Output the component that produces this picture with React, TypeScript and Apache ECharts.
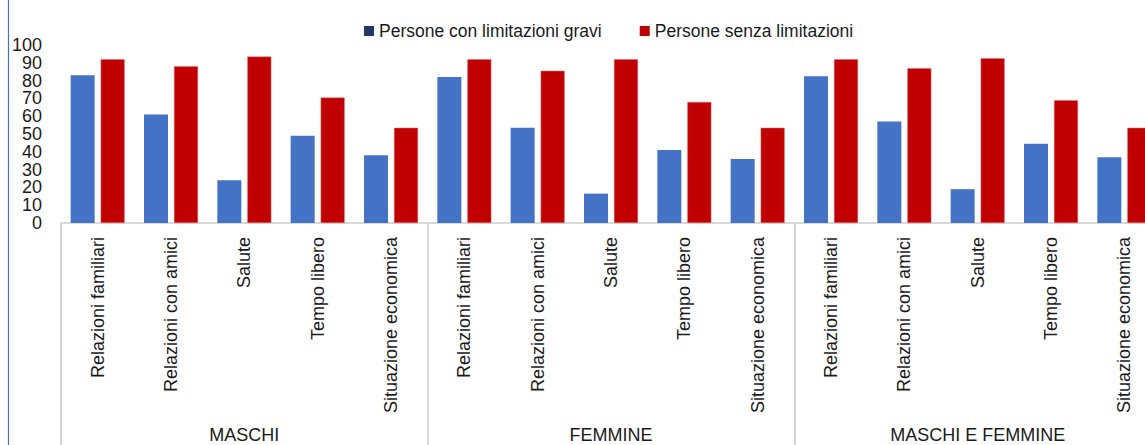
import React, { useEffect, useRef } from "react";
import * as echarts from "echarts";

const groups = ["MASCHI", "FEMMINE", "MASCHI E FEMMINE"];
const topics = ["Relazioni familiari", "Relazioni con amici", "Salute", "Tempo libero", "Situazione economica"];
const categories = groups.flatMap(() => topics);

const seriesNames = ["Persone con limitazioni gravi", "Persone senza limitazioni"];

const conLimitazioni = [
  83, 61, 24, 49, 38,
  82, 53.5, 16.5, 41, 36,
  82.5, 57, 19, 44.5, 37,
];
const senzaLimitazioni = [
  92, 88, 93.5, 70.5, 53.5,
  92, 85.5, 92, 68, 53.5,
  92, 87, 92.5, 69, 53.5,
];

const yTicks = { min: 0, max: 100, interval: 10 };

const FONT = "'Liberation Sans', Arial, sans-serif";

export default function App() {
  const ref = useRef<HTMLDivElement>(null);

  useEffect(() => {
    document.body.style.margin = "0";
    document.body.style.overflow = "hidden";
    const chart = echarts.init(ref.current!, null, { renderer: "svg" });
    const yLabel = { fontSize: 18, color: "#1a1a1a", margin: 19, fontFamily: FONT };
    chart.setOption({
      animation: false,
      backgroundColor: "#ffffff",
      textStyle: { fontFamily: FONT },
      legend: {
        left: 364,
        top: 22,
        padding: 0,
        itemWidth: 10,
        itemHeight: 10,
        itemGap: 38,
        textStyle: { fontSize: 17.5, color: "#1a1a1a", fontFamily: FONT, padding: [0, 0, 0, 0] },
        data: [
          { name: seriesNames[0], icon: "rect", itemStyle: { color: "#203864", borderWidth: 0 } },
          { name: seriesNames[1], icon: "rect", itemStyle: { color: "#C00000", borderWidth: 0 } },
        ],
      },
      grid: { left: 61, right: 9, top: 45, bottom: 222, containLabel: false },
      xAxis: [
        {
          type: "category",
          data: categories,
          position: "bottom",
          axisLine: { show: true, lineStyle: { color: "#d9d9d9", width: 2 } },
          axisTick: { show: false },
          axisLabel: {
            interval: 0,
            rotate: 90,
            margin: 14,
            fontSize: 18,
            color: "#1a1a1a",
            fontFamily: FONT,
          },
        },
        {
          type: "category",
          data: groups,
          position: "bottom",
          axisLine: { show: false },
          axisTick: {
            show: true,
            alignWithLabel: false,
            length: 230,
            lineStyle: { color: "#d9d9d9", width: 2 },
          },
          axisLabel: {
            interval: 0,
            margin: 203,
            fontSize: 18,
            color: "#1a1a1a",
            fontFamily: FONT,
          },
        },
      ],
      yAxis: [
        {
          type: "value",
          position: "left",
          min: yTicks.min,
          max: yTicks.max,
          interval: yTicks.interval,
          axisLine: { show: false },
          axisTick: { show: false },
          splitLine: { show: false },
          axisLabel: { ...yLabel, showMinLabel: false, showMaxLabel: false },
        },
        {
          type: "value",
          position: "left",
          min: yTicks.min,
          max: yTicks.max,
          interval: yTicks.max,
          axisLine: { show: false },
          axisTick: { show: false },
          splitLine: { show: false },
          axisLabel: { ...yLabel, showMinLabel: true, showMaxLabel: true },
        },
      ],
      series: [
        {
          name: seriesNames[0],
          type: "bar",
          xAxisIndex: 0,
          yAxisIndex: 0,
          data: conLimitazioni,
          barWidth: 24,
          barGap: "25%",
          itemStyle: { color: "#4472C4" },
        },
        {
          name: seriesNames[1],
          type: "bar",
          xAxisIndex: 0,
          yAxisIndex: 0,
          data: senzaLimitazioni,
          barWidth: 24,
          barGap: "25%",
          itemStyle: { color: "#C00000", borderColor: "#e07070", borderWidth: 0.5 },
        },
      ],
      graphic: [
        {
          type: "line",
          shape: { x1: 8.5, y1: 0, x2: 8.5, y2: 445 },
          style: { stroke: "#4472C4", lineWidth: 1.2 },
          silent: true,
        },
      ],
    });
    return () => chart.dispose();
  }, []);

  return <div ref={ref} style={{ width: 1170, height: 445, overflow: "hidden" }} />;
}
